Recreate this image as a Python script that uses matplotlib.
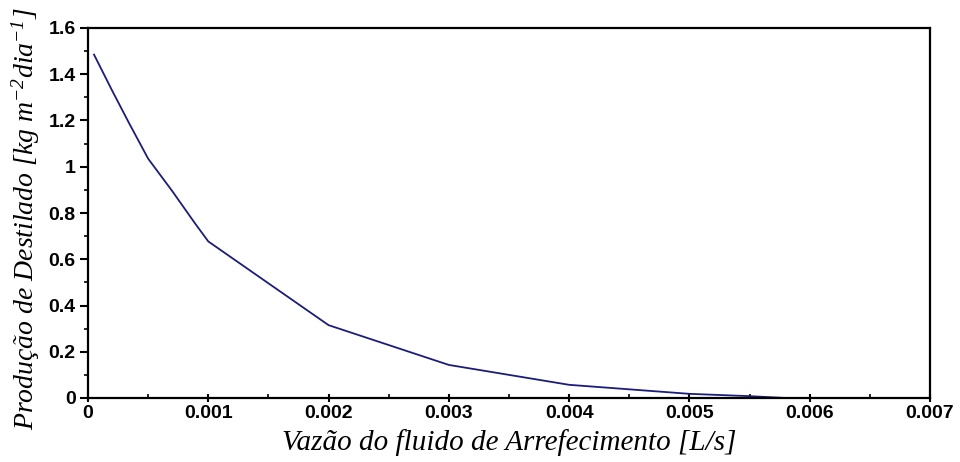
import matplotlib.pyplot as plt
import numpy as np
from matplotlib.ticker import MultipleLocator, FuncFormatter

plt.rcParams['mathtext.fontset'] = 'custom'
plt.rcParams['mathtext.rm'] = 'Liberation Serif:italic'
plt.rcParams['mathtext.it'] = 'Liberation Serif:italic'

# vazao [L/s] e producao de destilado [kg m-2 dia-1]
vazao = [0.00005, 0.0002, 0.00034, 0.0005, 0.0007, 0.00089, 0.001,
         0.002, 0.003, 0.004, 0.005, 0.0055, 0.0058]
producao = [1.485, 1.33, 1.19, 1.035, 0.895, 0.755, 0.677,
            0.315, 0.143, 0.057, 0.018, 0.008, 0.0]

fig = plt.figure(figsize=(9.6, 4.62), dpi=100)
ax = fig.add_axes([88/960, 1-398/462, (930-88)/960, (398-28)/462])

ax.plot(vazao, producao, color="#1c1c7a", lw=1.3)

ax.set_xlim(0, 0.007)
ax.set_ylim(0, 1.6)
ax.xaxis.set_major_locator(MultipleLocator(0.001))
ax.xaxis.set_minor_locator(MultipleLocator(0.0005))
ax.yaxis.set_major_locator(MultipleLocator(0.2))
ax.yaxis.set_minor_locator(MultipleLocator(0.1))

def fmt(v, pos):
    s = ('%.4f' % v).rstrip('0').rstrip('.')
    return s
ax.xaxis.set_major_formatter(FuncFormatter(fmt))
ax.yaxis.set_major_formatter(FuncFormatter(fmt))

ax.tick_params(axis='y', which='major', direction='out', length=6, width=1.5, labelsize=14, pad=3)
ax.tick_params(axis='y', which='minor', direction='out', length=3, width=1.2)
ax.tick_params(axis='x', which='major', direction='inout', length=6, width=1.5, labelsize=14, pad=2)
ax.tick_params(axis='x', which='minor', direction='in', length=3, width=1.2)
for lab in ax.get_xticklabels() + ax.get_yticklabels():
    lab.set_family('Liberation Sans')
    lab.set_weight('bold')

for sp in ax.spines.values():
    sp.set_linewidth(1.6)

ax.set_xlabel('Vazão do fluido de Arrefecimento [L/s]', family='Liberation Serif',
              style='italic', fontsize=21, labelpad=5)
ax.set_ylabel(r'Produção de Destilado [kg m$^{-2}$dia$^{-1}$]', family='Liberation Serif',
              style='italic', fontsize=20)
ax.yaxis.set_label_coords(-0.055, 0.485)

fig.savefig('out.png', dpi=100)
